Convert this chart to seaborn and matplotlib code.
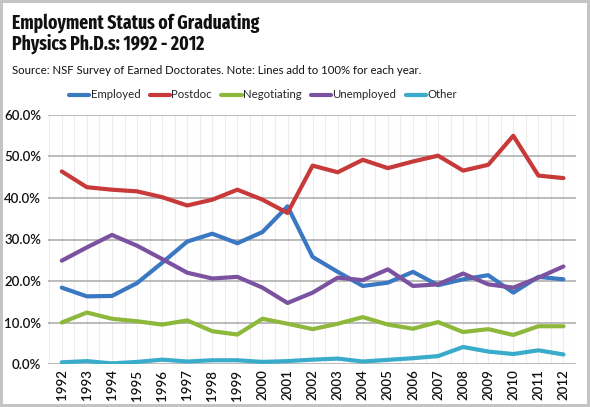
import matplotlib
matplotlib.use("Agg")
import matplotlib.pyplot as plt
import seaborn as sns
import pandas as pd
from matplotlib import font_manager as fm
from matplotlib.ticker import FuncFormatter, MultipleLocator

years = list(range(1992, 2013))
employed = [18.4, 16.3, 16.4, 19.5, 24.4, 29.5, 31.4, 29.1, 31.8, 38.0, 25.8, 22.2, 18.8, 19.6, 22.2, 19.0, 20.4, 21.4, 17.2, 21.0, 20.4]
postdoc = [46.4, 42.6, 42.0, 41.6, 40.2, 38.2, 39.6, 42.0, 39.6, 36.4, 47.8, 46.2, 49.2, 47.2, 48.8, 50.2, 46.6, 48.0, 55.0, 45.4, 44.8]
negotiating = [10.0, 12.4, 10.9, 10.3, 9.5, 10.5, 7.9, 7.1, 10.9, 9.7, 8.4, 9.7, 11.3, 9.5, 8.5, 10.1, 7.7, 8.4, 7.0, 9.1, 9.1]
unemployed = [24.9, 28.1, 31.1, 28.5, 25.3, 22.0, 20.6, 21.0, 18.4, 14.7, 17.2, 20.8, 20.2, 22.8, 18.8, 19.2, 21.8, 19.2, 18.4, 20.8, 23.5]
other = [0.4, 0.7, 0.15, 0.5, 1.05, 0.6, 0.9, 0.9, 0.5, 0.7, 1.05, 1.3, 0.6, 1.0, 1.4, 1.9, 4.1, 3.0, 2.4, 3.3, 2.3]
series_names = ["Employed", "Postdoc", "Negotiating", "Unemployed", "Other"]
colors = ["#3a78c2", "#c8393a", "#8eb83c", "#7b52a0", "#3aaccb"]
title_text = "Employment Status of Graduating\nPhysics Ph.D.s: 1992 - 2012"
subtitle_text = "Source: NSF Survey of Earned Doctorates. Note: Lines add to 100% for each year."

df = pd.concat([
    pd.DataFrame({"Year": years, "Value": vals, "Status": name})
    for name, vals in zip(series_names, [employed, postdoc, negotiating, unemployed, other])
])

sns.set_theme(style="white")
plt.rcParams["font.family"] = ["Lato", "DejaVu Sans"]


def _is_bold(w):
    if isinstance(w, str):
        return w in ("bold", "heavy", "extra bold", "black", "demibold", "semibold")
    return w >= 600


bold_fams = {f.name for f in fm.fontManager.ttflist if _is_bold(f.weight)}
title_fam = next((n for n in ["Sofia Sans Extra Condensed", "Fira Sans Extra Condensed", "Barlow Condensed",
                              "Roboto Condensed", "Liberation Sans Narrow", "Liberation Sans"]
                  if n in bold_fams), "DejaVu Sans")

fig = plt.figure(figsize=(5.9, 4.07), dpi=100)
fig.patch.set_facecolor("white")
fig.patch.set_edgecolor("#c4c4c4")
fig.patch.set_linewidth(3)
ax = fig.add_axes([48 / 590, 1 - 364 / 407, (576 - 48) / 590, (364 - 115) / 407])

sns.lineplot(data=df, x="Year", y="Value", hue="Status", palette=colors,
             hue_order=series_names, linewidth=3.0, ax=ax, legend=False,
             solid_capstyle="round", solid_joinstyle="round", zorder=3)

ax.set_xlim(1991.45, 2012.5)
ax.set_ylim(0, 60)
ax.yaxis.set_major_locator(MultipleLocator(10))
ax.yaxis.set_major_formatter(FuncFormatter(lambda v, p: f"{v:.1f}%"))
ax.set_xticks(years)
ax.set_xticklabels([str(y) for y in years], rotation=90)
ax.xaxis.set_minor_locator(MultipleLocator(0.5))
ax.grid(axis="y", which="major", color="#b0b0b0", linewidth=1.2, zorder=1)
ax.grid(axis="x", which="both", color="#ececec", linewidth=0.8, zorder=0)
for s in ax.spines.values():
    s.set_visible(False)
ax.tick_params(axis="both", which="both", length=0)
ax.tick_params(axis="x", labelsize=9.5, pad=4)
ax.tick_params(axis="y", labelsize=9.5, pad=5)
for lab in ax.get_xticklabels() + ax.get_yticklabels():
    lab.set_color("#111111")
    lab.set_fontweight("semibold")
ax.set_xlabel("")
ax.set_ylabel("")

handles = [plt.Line2D([0], [0], color=c, linewidth=3, solid_capstyle="round") for c in colors]
leg = fig.legend(handles, series_names, loc="center", bbox_to_anchor=(263 / 590, 1 - 95 / 407),
                 ncol=5, frameon=False, fontsize=8.2, handlelength=1.8, handletextpad=0.12,
                 columnspacing=0.8)

title = fig.text(12 / 590, 1 - 13 / 407, title_text, ha="left", va="top", fontsize=18,
                 fontweight="bold", family=[title_fam, "DejaVu Sans"], linespacing=1.0,
                 color="#111111")
sub = fig.text(12 / 590, 1 - 71 / 407, subtitle_text, ha="left", va="center",
               fontsize=8.6, color="#111111")

# fit title and subtitle widths to the reference layout
fig.canvas.draw()
r = fig.canvas.get_renderer()
w = title.get_window_extent(r).width
title.set_fontsize(min(24, 18 * 246 / w))
w2 = sub.get_window_extent(r).width
sub.set_fontsize(8.6 * 408 / w2)

fig.savefig("out.png", dpi=100, facecolor=fig.get_facecolor(), edgecolor=fig.get_edgecolor())
